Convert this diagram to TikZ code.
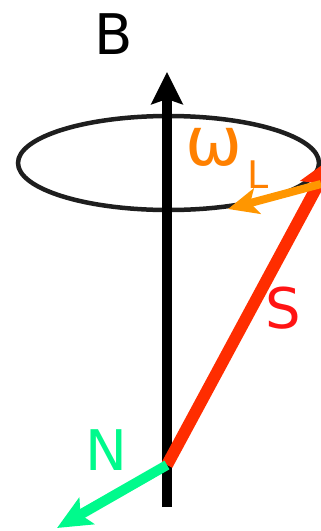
\documentclass[tikz,border=0pt]{standalone}
\usepackage{fontspec}
\setmainfont{DejaVu Sans}
\usepackage{xcolor}
\definecolor{spinred}{RGB}{255,45,0}
\definecolor{labelred}{RGB}{255,20,20}
\definecolor{larmor}{RGB}{255,150,0}
\definecolor{larmorlabel}{RGB}{255,128,0}
\definecolor{nucgreen}{RGB}{0,250,140}
\definecolor{orbit}{RGB}{30,30,30}
\usetikzlibrary{arrows.meta,positioning}

\begin{document}
\begin{tikzpicture}[x=1pt, y=-1pt,
    biglabel/.style={font=\fontsize{56}{60}\selectfont, inner sep=0pt},
    sublabel/.style={font=\fontsize{38}{40}\selectfont, inner sep=0pt},
    fieldarr/.style={line width=10pt, -{Stealth[length=32pt,width=31pt,inset=5pt]}},
    spinarr/.style={spinred, line width=12pt, -{Stealth[length=36pt,width=34pt,inset=6pt]}},
    precarr/.style={larmor, line width=8pt, -{Stealth[length=30pt,width=26pt,inset=7pt]}},
    nucarr/.style={nucgreen, line width=10pt, -{Stealth[length=34pt,width=30pt,inset=7pt]}},
  ]
    \useasboundingbox (0,0) rectangle (321,531);
    \clip (0,0) rectangle (321,531);

    % precession cone
    \draw[orbit, line width=4.5pt] (168.5,163) ellipse [x radius=150.5, y radius=47];

    % points
    \coordinate (base)   at (167,507);
    \coordinate (btip)   at (167,72);
    \coordinate (origin) at (167,465);
    \coordinate (stip)   at (333,157);
    \coordinate (wstart) at (321,184);
    \coordinate (wtip)   at (228,209);
    \coordinate (ntip)   at (57,528);

    % vectors
    \draw[fieldarr] (base) -- (btip);
    \draw[spinarr] (origin) -- (stip);
    \draw[precarr] (wstart) -- (wtip);
    \draw[nucarr] (origin) -- (ntip);

    % labels
    \node[biglabel] (blabel) at (114,34) {B};
    \node[biglabel, font=\fontsize{68}{70}\selectfont, text=larmorlabel] (wlabel) at (214,147) {ω};
    \node[sublabel, text=larmorlabel] (llabel) at (258,175) {L};
    \node[biglabel, text=labelred] (slabel) at (283,308) {S};
    \node[biglabel, text=nucgreen] (nlabel) at (106,450) {N};
  \end{tikzpicture}
\end{document}
